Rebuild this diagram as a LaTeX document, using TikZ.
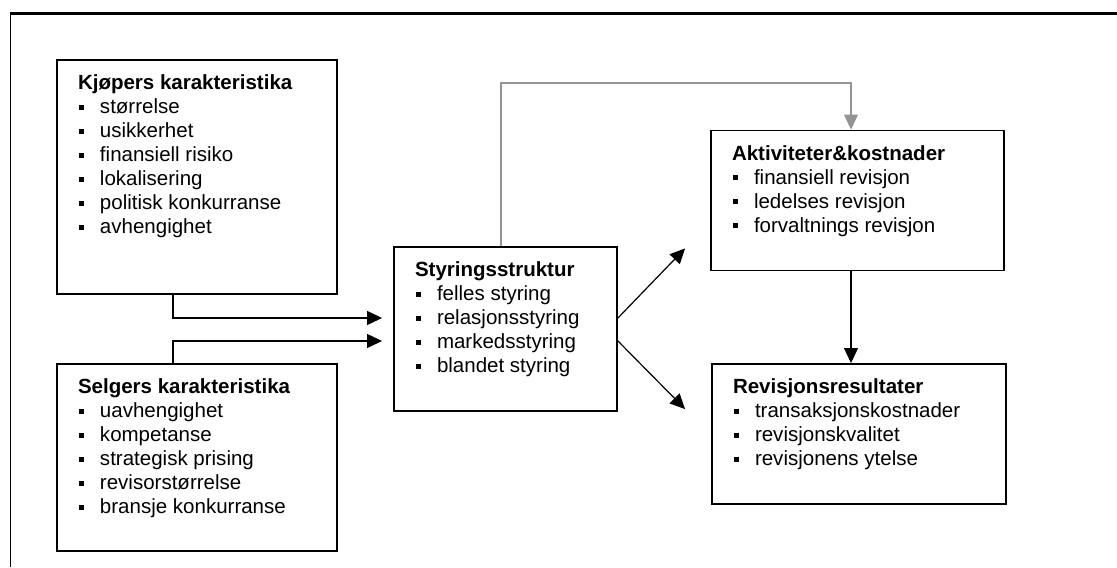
\documentclass[tikz,border=0pt]{standalone}
\usepackage{fontspec}
\setmainfont{Liberation Sans}
\usetikzlibrary{arrows.meta,calc}

\newlength{\pxu}
\setlength{\pxu}{0.585pt}
\newcommand{\punkt}[1]{\\\makebox[22\pxu][l]{\hspace*{1\pxu}\rule[4\pxu]{5\pxu}{5\pxu}}#1}
\newcommand{\boks}[4]{\parbox[c][#2\pxu][t]{#1\pxu}{\fontsize{12}{14.04}\selectfont\raggedright\leftskip=21\pxu\parindent=0pt\rule{0pt}{30\pxu}\textbf{#3}#4}}

\begin{document}
\begin{tikzpicture}[x = 0.585pt, y = 0.585pt,
		kasse/.style = {draw, line width = 1.1pt, inner sep = 0pt},
		pil/.style = {-{Triangle[length = 8.8pt, width = 8.2pt]}, line width = 0.7pt}]
	
		\colorlet{linegray}{black!42}
		\useasboundingbox (0, 0) rectangle (1117, 567);
		
		% Frame
		\draw[line width = 1.2pt] (10, 553.5) -- (1117, 553.5);
		\draw[line width = 0.8pt] (10.5, 0) -- (10.5, 554);
		
		% Boxes
		\node[kasse] (kjoper) at (197, 390) {\boks{280}{234}{Kjøpers karakteristika}{%
			\punkt{størrelse}\punkt{usikkerhet}\punkt{finansiell risiko}%
			\punkt{lokalisering}\punkt{politisk konkurranse}\punkt{avhengighet}}};
		\node[kasse] (selger) at (197, 109.5) {\boks{280}{187}{Selgers karakteristika}{%
			\punkt{uavhengighet}\punkt{kompetanse}\punkt{strategisk prising}%
			\punkt{revisorstørrelse}\punkt{bransje konkurranse}}};
		\node[kasse] (styring) at (505.5, 238) {\boks{223}{164}{Styringsstruktur}{%
			\punkt{felles styring}\punkt{relasjonsstyring}\punkt{markedsstyring}%
			\punkt{blandet styring}}};
		\node[kasse] (aktivitet) at (857.5, 366.5) {\boks{293}{140}{Aktiviteter\&kostnader}{%
			\punkt{finansiell revisjon}\punkt{ledelses revisjon}\punkt{forvaltnings revisjon}}};
		\node[kasse] (resultat) at (859, 133) {\boks{294}{140}{Revisjonsresultater}{%
			\punkt{transaksjonskostnader}\punkt{revisjonskvalitet}\punkt{revisjonens ytelse}}};
		
		% Arrow ends
		\coordinate (inn1) at ($(styring.west) + (-11, 11)$);
		\coordinate (inn2) at ($(styring.west) + (-11, -12)$);
		\coordinate (ut1) at ($(aktivitet.south west) + (-25, 23)$);
		\coordinate (ut2) at ($(resultat.north west) + (-26, -46)$);
		
		% Into the governance structure
		\draw[pil] ([xshift = -24\pxu]kjoper.south) |- (inn1);
		\draw[pil] ([xshift = -24\pxu]selger.north) |- (inn2);
		
		% Out of it
		\draw[pil] ([yshift = 11\pxu]styring.east) -- (ut1);
		\draw[pil] ([yshift = -12\pxu]styring.east) -- (ut2);
		\draw[pil] ([xshift = -6.5\pxu]aktivitet.south) -- ([xshift = -8\pxu]resultat.north);
		
		% Gray link over the top
		\draw[pil, linegray] ([xshift = -4.5\pxu]styring.north) -- ++(0, 163) -| ([xshift = -6.5\pxu]aktivitet.north);
		
	\end{tikzpicture}
\end{document}
